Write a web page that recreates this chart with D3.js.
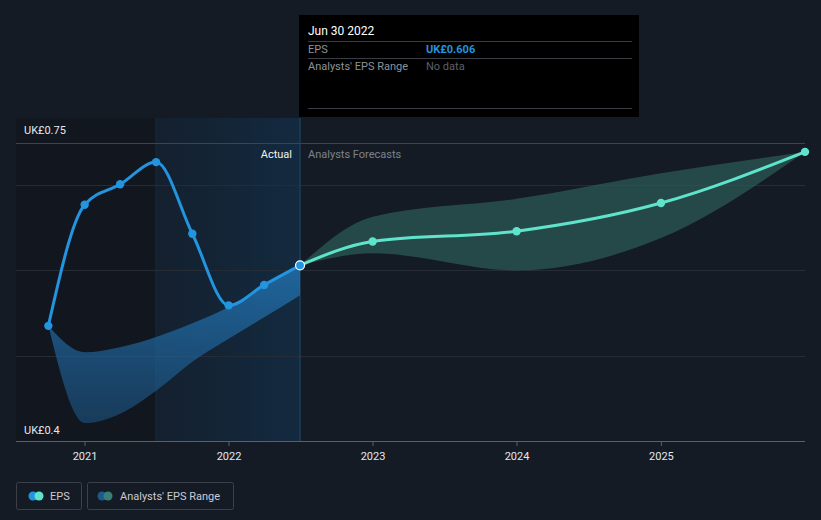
<!DOCTYPE html>
<html><head><meta charset="utf-8">
<script src="https://cdn.jsdelivr.net/npm/d3@7"></script>
<style>
html,body{margin:0;padding:0;background:#151b25;}
svg{display:block;font-family:Roboto,"Open Sans",sans-serif;}
</style></head><body>
<svg id="c" width="821" height="520"></svg>
<script>
// ---- data ----
const actualDates = ["2020-09-30","2020-12-31","2021-03-31","2021-06-30","2021-09-30","2021-12-31","2022-03-31","2022-06-30"];
const actualEPS   = [0.535,0.677,0.701,0.727,0.643,0.559,0.583,0.606];
const pastRangeLow  = [0.535,0.421,0.432,0.459,0.493,0.520,0.545,0.571];
const pastRangeHigh = [0.535,0.504,0.510,0.522,0.538,0.557,0.583,0.606];
const forecastDates = ["2022-06-30","2022-12-31","2023-12-31","2024-12-31","2025-12-31"];
const forecastEPS   = [0.606,0.634,0.646,0.679,0.739];
const forecastLow   = [0.606,0.620,0.600,0.638,0.739];
const forecastHigh  = [0.606,0.663,0.684,0.714,0.739];
const yTicks = [0.4,0.5,0.6,0.7,0.75];
const yLabels = ["UK£0.4","UK£0.75"];
const xTickYears = [2021,2022,2023,2024,2025];
const tooltipDate = "Jun 30 2022";
const tooltipEPS = "UK£0.606";

(function(){
const P = d3.timeParse("%Y-%m-%d");
const svg = d3.select("#c");
const pL=16,pR=805,pT=118,pB=441;
const x = d3.scaleTime().domain([P("2020-07-10"),P("2025-12-31")]).range([pL,pR]);
const y = d3.scaleLinear().domain([0.4,0.75]).range([pB,142.5]);

const defs = svg.append("defs");
const gHi = defs.append("linearGradient").attr("id","hi").attr("x1",0).attr("x2",1).attr("y1",0).attr("y2",0);
gHi.append("stop").attr("offset","0%").attr("stop-color","#14202e");
gHi.append("stop").attr("offset","100%").attr("stop-color","#132a40");
const gPast = defs.append("linearGradient").attr("id","pastband").attr("x1",0).attr("x2",0).attr("y1",0).attr("y2",1);
gPast.append("stop").attr("offset","0%").attr("stop-color","#2274b3").attr("stop-opacity",0.8);
gPast.append("stop").attr("offset","100%").attr("stop-color","#1d5a8c").attr("stop-opacity",0.55);

// background regions
const xNow = x(P("2022-06-30"));
const xYearAgo = x(P("2021-06-30"));
svg.append("rect").attr("x",pL).attr("y",pT).attr("width",xYearAgo-pL).attr("height",pB-pT).attr("fill","#12161e");
svg.append("rect").attr("x",xYearAgo).attr("y",pT).attr("width",xNow-xYearAgo).attr("height",pB-pT).attr("fill","url(#hi)");
svg.append("line").attr("x1",xYearAgo).attr("x2",xYearAgo).attr("y1",pT).attr("y2",pB).attr("stroke","#1b2c3d").attr("stroke-width",1);

// grid
svg.append("g").selectAll("line").data(yTicks.filter(d=>d!==0.4)).join("line")
  .attr("x1",pL).attr("x2",pR)
  .attr("y1",d=>Math.round(y(d))+0.5).attr("y2",d=>Math.round(y(d))+0.5)
  .attr("stroke",d=>d===0.75?"#3f444c":"#262c36").attr("stroke-width",1);

// now line
svg.append("line").attr("x1",xNow).attr("x2",xNow).attr("y1",pT).attr("y2",pB).attr("stroke","#1f4a6e").attr("stroke-width",1);

// bands
const pastBand = actualDates.map((d,i)=>({d:P(d),lo:pastRangeLow[i],hi:pastRangeHigh[i]}));
const fcBand = forecastDates.map((d,i)=>({d:P(d),lo:forecastLow[i],hi:forecastHigh[i]}));
const area = d3.area().x(d=>x(d.d)).y0(d=>y(d.lo)).y1(d=>y(d.hi)).curve(d3.curveMonotoneX);
svg.append("path").datum(pastBand).attr("d",area).attr("fill","url(#pastband)");
svg.append("path").datum(fcBand).attr("d",area).attr("fill","#2c5a58").attr("fill-opacity",0.72);

// lines
const act = actualDates.map((d,i)=>({d:P(d),v:actualEPS[i]}));
const fc = forecastDates.map((d,i)=>({d:P(d),v:forecastEPS[i]}));
const line = d3.line().x(d=>x(d.d)).y(d=>y(d.v)).curve(d3.curveMonotoneX);
svg.append("path").datum(fc).attr("d",line).attr("fill","none").attr("stroke","#5fe3cc").attr("stroke-width",3);
svg.append("path").datum(act).attr("d",line).attr("fill","none").attr("stroke","#2394df").attr("stroke-width",3);
svg.append("g").selectAll("circle").data(fc.slice(1)).join("circle")
  .attr("cx",d=>x(d.d)).attr("cy",d=>y(d.v)).attr("r",4.2).attr("fill","#5fe3cc");
svg.append("g").selectAll("circle").data(act.slice(0,-1)).join("circle")
  .attr("cx",d=>x(d.d)).attr("cy",d=>y(d.v)).attr("r",4.2).attr("fill","#2394df");
const last = act[act.length-1];
svg.append("circle").attr("cx",x(last.d)).attr("cy",y(last.v)).attr("r",4.5).attr("fill","#2394df").attr("stroke","#ffffff").attr("stroke-width",1.2);

// x axis
svg.append("line").attr("x1",pL).attr("x2",pR).attr("y1",pB+0.5).attr("y2",pB+0.5).attr("stroke","#5a6069");
const xt = svg.append("g").selectAll("g").data(xTickYears).join("g").attr("transform",d=>`translate(${x(new Date(d,0,1))},0)`);
xt.append("line").attr("y1",pB).attr("y2",pB+5).attr("stroke","#5a6069");
xt.append("text").attr("y",pB+19).attr("text-anchor","middle").attr("fill","#e6e8ea").attr("font-size",11).text(d=>d);

// y labels
svg.append("text").attr("x",24).attr("y",134).attr("fill","#e6e8ea").attr("font-size",11).text(yLabels[1]);
svg.append("text").attr("x",24).attr("y",434).attr("fill","#e6e8ea").attr("font-size",11).text(yLabels[0]);

// Actual / forecast labels
svg.append("text").attr("x",xNow-8).attr("y",158).attr("text-anchor","end").attr("fill","#f0f2f4").attr("font-size",11).text("Actual");
svg.append("text").attr("x",xNow+8).attr("y",158).attr("fill","#7d838b").attr("font-size",11).text("Analysts Forecasts");

// tooltip
const tt = svg.append("g");
tt.append("rect").attr("x",299).attr("y",15).attr("width",340).attr("height",102).attr("fill","#000000");
tt.append("text").attr("x",308).attr("y",35).attr("fill","#ffffff").attr("font-size",12).text(tooltipDate);
[41,58,108].forEach(yy=>tt.append("line").attr("x1",308).attr("x2",632).attr("y1",yy+0.5).attr("y2",yy+0.5).attr("stroke","#3a3e44"));
tt.append("text").attr("x",308).attr("y",53).attr("fill","#8d9298").attr("font-size",11).text("EPS");
tt.append("text").attr("x",426).attr("y",53).attr("fill","#2394df").attr("font-size",11).attr("font-weight","bold").text(tooltipEPS);
tt.append("text").attr("x",308).attr("y",70).attr("fill","#8d9298").attr("font-size",11).text("Analysts' EPS Range");
tt.append("text").attr("x",426).attr("y",70).attr("fill","#5c6167").attr("font-size",11).text("No data");

// legend
const lg = svg.append("g");
lg.append("rect").attr("x",16.5).attr("y",482.5).attr("width",65).attr("height",27).attr("rx",2).attr("fill","none").attr("stroke","#3b4049");
lg.append("circle").attr("cx",33).attr("cy",496).attr("r",4.5).attr("fill","#2394df");
lg.append("circle").attr("cx",39).attr("cy",496).attr("r",4.5).attr("fill","#5fe3cc");
lg.append("text").attr("x",50).attr("y",500).attr("fill","#c9ccd0").attr("font-size",11).text("EPS");
lg.append("rect").attr("x",87.5).attr("y",482.5).attr("width",146).attr("height",27).attr("rx",2).attr("fill","none").attr("stroke","#3b4049");
lg.append("circle").attr("cx",102).attr("cy",496).attr("r",4.5).attr("fill","#1d5a8c");
lg.append("circle").attr("cx",108).attr("cy",496).attr("r",4.5).attr("fill","#3c7d78");
lg.append("text").attr("x",120).attr("y",500).attr("fill","#c9ccd0").attr("font-size",11).text("Analysts' EPS Range");
})();
</script></body></html>
